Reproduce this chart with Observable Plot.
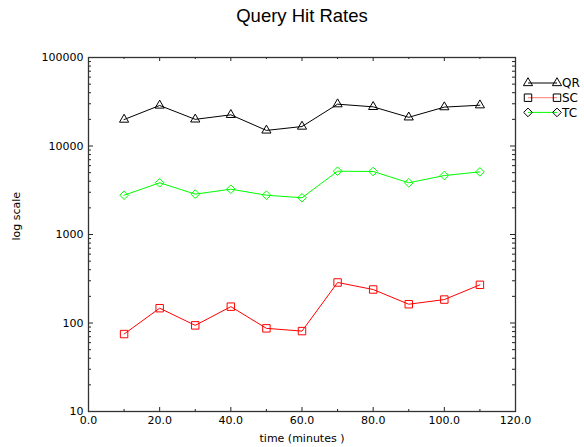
<!DOCTYPE html>
<html>
<head>
<meta charset="utf-8">
<script src="https://cdn.jsdelivr.net/npm/d3@7"></script>
<script src="https://cdn.jsdelivr.net/npm/@observablehq/plot@0.6"></script>
<style>
  html, body { margin: 0; padding: 0; background: #fff; }
  #chart { position: relative; width: 584px; height: 447px; }
  #legend { position: absolute; left: 0; top: 0; }
</style>
</head>
<body>
<div id="chart"></div>
<script>
// ---- data ----
const times = [10, 20, 30, 40, 50, 60, 70, 80, 90, 100, 110];
const qrValues = [19900, 28700, 20000, 22500, 15000, 16600, 29700, 27700, 21100, 27500, 28900];
const scValues = [75, 147, 94, 153, 87, 81, 287, 239, 163, 184, 270];
const tcValues = [2780, 3840, 2860, 3250, 2780, 2600, 5190, 5150, 3840, 4640, 5100];
const seriesNames = ["QR", "SC", "TC"];
const seriesColors = ["#000000", "#ff0000", "#00ff00"];
const seriesSymbols = ["triangle", "square", "diamond2"];
const xTickLabels = [0, 20, 40, 60, 80, 100, 120];
const xMinorTicks = [10, 30, 50, 70, 90, 110];
const yTickLabels = [10, 100, 1000, 10000, 100000];
const titleText = "Query Hit Rates";
const xLabelText = "time (minutes )";
const yLabelText = "log scale";

// ---- layout ----
const W = 584, H = 447;
const mL = 88, mR = 69, mT = 57, mB = 36;
const pw = W - mL - mR, ph = H - mT - mB;
const font = "'Liberation Sans', Arial, sans-serif";
const smallFont = "'DejaVu Sans', sans-serif";

const allValues = [qrValues, scValues, tcValues];
const rows = [];
seriesNames.forEach((name, i) => {
  times.forEach((t, j) => rows.push({series: name, t, v: allValues[i][j]}));
});
const yMinor = yTickLabels.slice(0, -1).flatMap(d => [2,3,4,5,6,7,8,9].map(k => d * k));
const symbolR = {triangle: 3.4, square: 4.2, diamond2: 3.9};

const marks = [];
// ticks (inward)
marks.push(Plot.tickX(xTickLabels, {x: d => d, insetTop: ph - 4, stroke: "#222"}));
marks.push(Plot.tickX(xTickLabels, {x: d => d, insetBottom: ph - 4, stroke: "#222"}));
marks.push(Plot.tickX(xMinorTicks, {x: d => d, insetTop: ph - 2, stroke: "#222"}));
marks.push(Plot.tickX(xMinorTicks, {x: d => d, insetBottom: ph - 2, stroke: "#222"}));
marks.push(Plot.tickY(yTickLabels, {y: d => d, insetRight: pw - 5, stroke: "#222"}));
marks.push(Plot.tickY(yTickLabels, {y: d => d, insetLeft: pw - 5, stroke: "#222"}));
marks.push(Plot.tickY(yMinor, {y: d => d, insetRight: pw - 3, stroke: "#222"}));
marks.push(Plot.tickY(yMinor, {y: d => d, insetLeft: pw - 3, stroke: "#222"}));
marks.push(Plot.frame({stroke: "#333", strokeWidth: 1.3}));
// tick labels
marks.push(Plot.axisX({ticks: xTickLabels, tickSize: 0, tickPadding: 5, tickFormat: d => d.toFixed(1), fontSize: 11, fontFamily: smallFont, label: null}));
marks.push(Plot.axisY({ticks: yTickLabels, tickSize: 0, tickPadding: 5, tickFormat: d => String(d), fontSize: 11, fontFamily: smallFont, label: null}));
// series
seriesNames.forEach((name, i) => {
  const data = rows.filter(r => r.series === name);
  marks.push(Plot.line(data, {x: "t", y: "v", stroke: seriesColors[i], strokeWidth: 1}));
  marks.push(Plot.dot(data, {x: "t", y: "v", symbol: () => seriesSymbols[i], r: symbolR[seriesSymbols[i]], stroke: seriesColors[i], fill: "none", strokeWidth: 1}));
});
// texts
marks.push(Plot.text([titleText], {text: d => d, frameAnchor: "top", lineAnchor: "bottom", dy: -36, fontSize: 18.5, fill: "#000"}));
marks.push(Plot.text([xLabelText], {text: d => d, frameAnchor: "bottom", lineAnchor: "top", dy: 23, fontSize: 11, fontFamily: smallFont, fill: "#000"}));
marks.push(Plot.text([yLabelText], {text: d => d, frameAnchor: "left", dx: -72, dy: 6, rotate: -90, fontSize: 11, fontFamily: smallFont, fill: "#000"}));

const chart = Plot.plot({
  width: W, height: H,
  marginLeft: mL, marginRight: mR, marginTop: mT, marginBottom: mB,
  style: {fontFamily: font, background: "#fff", color: "#000", overflow: "visible"},
  x: {domain: [0, 120], axis: null},
  y: {type: "log", domain: [10, 100000], axis: null},
  symbol: {type: "identity"},
  marks
});
document.getElementById("chart").appendChild(chart);

// ---- legend ----
const legend = d3.select("#chart").append("svg")
  .attr("id", "legend").attr("width", W).attr("height", H)
  .style("font-family", smallFont).style("font-size", "12px");
const legendX0 = 528, legendX1 = 557, legendXText = 562, legendY0 = 83, legendDy = 14.7;
const d3Sym = {triangle: d3.symbolTriangle, square: d3.symbolSquare, diamond2: d3.symbolDiamond2};
seriesNames.forEach((name, i) => {
  const y = legendY0 + i * legendDy;
  const g = legend.append("g");
  g.append("line").attr("x1", legendX0).attr("x2", legendX1).attr("y1", y).attr("y2", y)
    .attr("stroke", i === 1 ? "#ff7878" : seriesColors[i]).attr("stroke-width", 1);
  const r = symbolR[seriesSymbols[i]];
  const p = d3.symbol(d3Sym[seriesSymbols[i]], Math.PI * r * r)();
  [legendX0, legendX1].forEach(x => {
    g.append("path").attr("d", p).attr("transform", `translate(${x},${y})`)
      .attr("fill", "none").attr("stroke", "#000").attr("stroke-width", 1);
  });
  g.append("text").attr("x", legendXText).attr("y", y).attr("dy", "0.35em").text(name);
});
</script>
</body>
</html>
